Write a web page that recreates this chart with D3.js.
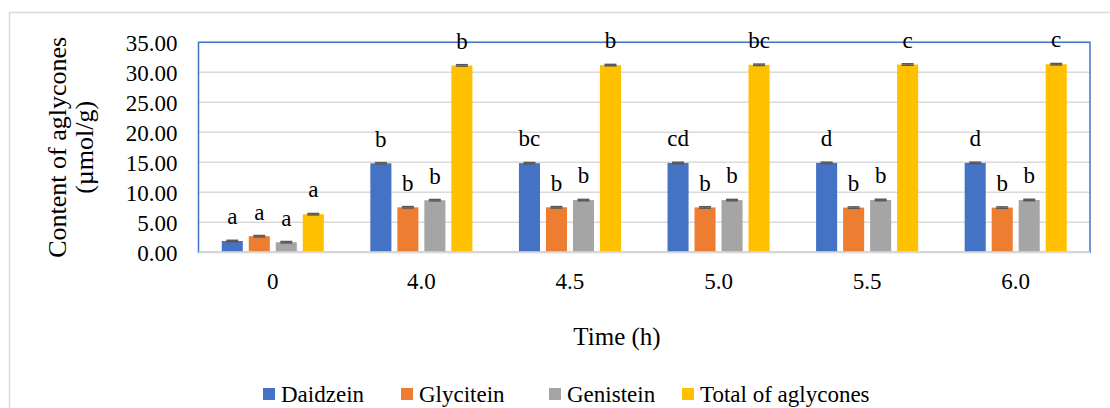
<!DOCTYPE html>
<html>
<head>
<meta charset="utf-8">
<script src="https://cdn.jsdelivr.net/npm/d3@7"></script>
<style>
  body { margin: 0; background: #fff; }
  svg text { font-family: "Liberation Serif", "Times New Roman", serif; fill: #000; }
</style>
</head>
<body>
<script>
// Data
var categories = ['0', '4.0', '4.5', '5.0', '5.5', '6.0'];
var seriesNames = ['Daidzein', 'Glycitein', 'Genistein', 'Total of aglycones'];
var daidzein = [1.88, 14.83, 14.85, 14.88, 14.9, 14.9];
var glycitein = [2.68, 7.5, 7.5, 7.48, 7.45, 7.45];
var genistein = [1.68, 8.68, 8.7, 8.7, 8.72, 8.72];
var total = [6.35, 31.15, 31.2, 31.25, 31.3, 31.35];
var daidzeinErr = [0.12, 0.12, 0.12, 0.12, 0.12, 0.12];
var glyciteinErr = [0.12, 0.12, 0.12, 0.12, 0.12, 0.12];
var genisteinErr = [0.12, 0.12, 0.12, 0.12, 0.12, 0.12];
var totalErr = [0.12, 0.12, 0.12, 0.12, 0.12, 0.12];
var daidzeinLetters = ['a', 'b', 'bc', 'cd', 'd', 'd'];
var glyciteinLetters = ['a', 'b', 'b', 'b', 'b', 'b'];
var genisteinLetters = ['a', 'b', 'b', 'b', 'b', 'b'];
var totalLetters = ['a', 'b', 'b', 'bc', 'c', 'c'];
var yTicks = [0, 5, 10, 15, 20, 25, 30, 35];

// Layout
var WIDTH = 1110;
var HEIGHT = 408;
var PLOT_LEFT = 198.5;
var PLOT_RIGHT = 1090;
var PLOT_TOP = 42.3;
var PLOT_BOTTOM = 252.3;
var FONT = '"Liberation Serif", "Times New Roman", serif';
var COLORS = ['#4472C4', '#ED7D31', '#A5A5A5', '#FFC000'];
var GRID_COLOR = '#D9D9D9';
var ERR_COLOR = '#595959';

var series = [
  { values: daidzein, errs: daidzeinErr, letters: daidzeinLetters },
  { values: glycitein, errs: glyciteinErr, letters: glyciteinLetters },
  { values: genistein, errs: genisteinErr, letters: genisteinLetters },
  { values: total, errs: totalErr, letters: totalLetters }
];

var rows = [];
series.forEach(function (s, si) {
  categories.forEach(function (c, ci) {
    rows.push({ cat: c, s: si, v: s.values[ci], e: s.errs[ci], letter: s.letters[ci] });
  });
});

var y = d3.scaleLinear().domain([0, 35]).range([PLOT_BOTTOM, PLOT_TOP]);

var x0 = d3.scaleBand()
  .domain(categories)
  .range([PLOT_LEFT, PLOT_RIGHT])
  .paddingInner(0.313)
  .paddingOuter(0.1565);

var x1 = d3.scaleBand()
  .domain(d3.range(seriesNames.length))
  .range([0, x0.bandwidth()])
  .paddingInner(0.22);

var svg = d3.select('body').append('svg')
  .attr('width', WIDTH)
  .attr('height', HEIGHT)
  .style('font-family', FONT);

// outer chart frame
svg.append('rect')
  .attr('x', 9.5)
  .attr('y', 12.5)
  .attr('width', WIDTH + 20)
  .attr('height', HEIGHT + 20)
  .attr('fill', '#fff')
  .attr('stroke', GRID_COLOR)
  .attr('stroke-width', 1.5);

// gridlines
svg.append('g')
  .selectAll('line')
  .data(yTicks.filter(function (d) { return d > 0; }))
  .join('line')
  .attr('x1', PLOT_LEFT)
  .attr('x2', PLOT_RIGHT)
  .attr('y1', function (d) { return y(d); })
  .attr('y2', function (d) { return y(d); })
  .attr('stroke', GRID_COLOR)
  .attr('stroke-width', 1.5);

// plot area outline
svg.append('rect')
  .attr('x', PLOT_LEFT)
  .attr('y', PLOT_TOP)
  .attr('width', PLOT_RIGHT - PLOT_LEFT)
  .attr('height', PLOT_BOTTOM - PLOT_TOP)
  .attr('fill', 'none')
  .attr('stroke', '#4472C4')
  .attr('stroke-width', 1.5);

// y tick labels
var yAxis = svg.append('g')
  .attr('transform', 'translate(' + (PLOT_LEFT - 21) + ',0)')
  .call(d3.axisLeft(y).tickValues(yTicks).tickSize(0).tickPadding(0).tickFormat(d3.format('.2f')))
  .attr('font-family', null)
  .attr('font-size', null);
yAxis.select('.domain').remove();
yAxis.selectAll('text')
  .attr('dy', null)
  .attr('y', 8)
  .style('font-family', FONT)
  .style('font-size', '23px')
  .attr('fill', '#000');

// bars
svg.append('g')
  .selectAll('rect')
  .data(rows)
  .join('rect')
  .attr('x', function (d) { return x0(d.cat) + x1(d.s); })
  .attr('y', function (d) { return y(d.v); })
  .attr('width', x1.bandwidth())
  .attr('height', function (d) { return y(0) - y(d.v); })
  .attr('fill', function (d) { return COLORS[d.s]; });

// x axis line
svg.append('line')
  .attr('x1', PLOT_LEFT)
  .attr('x2', PLOT_RIGHT)
  .attr('y1', y(0))
  .attr('y2', y(0))
  .attr('stroke', GRID_COLOR)
  .attr('stroke-width', 2);

// error bars
var errG = svg.append('g')
  .attr('stroke', ERR_COLOR)
  .attr('stroke-width', 1.5);
rows.forEach(function (d) {
  var cx = x0(d.cat) + x1(d.s) + x1.bandwidth() / 2;
  errG.append('line')
    .attr('x1', cx).attr('x2', cx)
    .attr('y1', y(d.v - d.e)).attr('y2', y(d.v + d.e));
  [d.v - d.e, d.v + d.e].forEach(function (t) {
    errG.append('line')
      .attr('x1', cx - 6).attr('x2', cx + 6)
      .attr('y1', y(t)).attr('y2', y(t));
  });
});

// significance letters
svg.append('g')
  .selectAll('text')
  .data(rows)
  .join('text')
  .attr('x', function (d) { return x0(d.cat) + x1(d.s) + x1.bandwidth() / 2; })
  .attr('y', function (d) { return y(d.v + d.e) - 16; })
  .attr('text-anchor', 'middle')
  .style('font-size', '23px')
  .text(function (d) { return d.letter; });

// category labels
var xAxis = svg.append('g')
  .attr('transform', 'translate(0,' + y(0) + ')')
  .call(d3.axisBottom(x0).tickSize(0).tickPadding(0))
  .attr('font-family', null)
  .attr('font-size', null);
xAxis.select('.domain').remove();
xAxis.selectAll('text')
  .attr('dy', null)
  .attr('y', 37)
  .style('font-family', FONT)
  .style('font-size', '23px')
  .attr('fill', '#000');

// axis titles
svg.append('text')
  .attr('x', 617)
  .attr('y', 345)
  .attr('text-anchor', 'middle')
  .style('font-size', '25px')
  .text('Time (h)');

var yTitle = svg.append('text')
  .attr('transform', 'translate(66,' + ((PLOT_TOP + PLOT_BOTTOM) / 2) + ') rotate(-90)')
  .attr('text-anchor', 'middle')
  .style('font-size', '26px');
yTitle.append('tspan').attr('x', 0).attr('y', 0).text('Content of aglycones');
yTitle.append('tspan').attr('x', 0).attr('y', 27).text('(µmol/g)');

// legend
var legendX = [263, 401, 549, 682];
var legend = svg.append('g')
  .selectAll('g')
  .data(seriesNames)
  .join('g')
  .attr('transform', function (d, i) { return 'translate(' + legendX[i] + ',388)'; });
legend.append('rect')
  .attr('width', 12)
  .attr('height', 12)
  .attr('fill', function (d, i) { return COLORS[i]; });
legend.append('text')
  .attr('x', 18)
  .attr('y', 13.5)
  .style('font-size', '23px')
  .text(function (d) { return d; });
</script>
</body>
</html>
